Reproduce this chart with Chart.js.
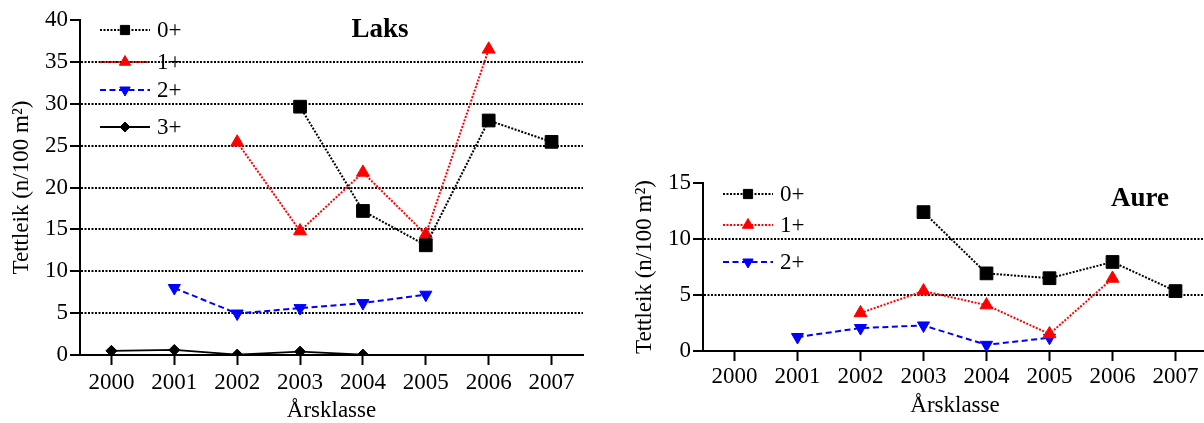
<!DOCTYPE html>
<html>
<head>
<meta charset="utf-8">
<script src="https://cdn.jsdelivr.net/npm/chart.js@4/dist/chart.umd.min.js"></script>
<style>
  html, body { margin: 0; padding: 0; overflow: hidden; background: #fff; width: 1204px; height: 423px; }
  canvas { position: absolute; top: 0; }
  #laks { left: 0; }
  #aure { left: 620px; }
</style>
</head>
<body>
<canvas id="laks" width="600" height="423"></canvas>
<canvas id="aure" width="600" height="423"></canvas>
<script>
// Year classes on the x axis
const years = ['2000', '2001', '2002', '2003', '2004', '2005', '2006', '2007'];

// Laks (salmon) density, n/100 m², per age group
const laks0 = [null, null, null, 29.65, 17.2, 13.1, 28.0, 25.45];
const laks1 = [null, null, 25.4, 14.8, 21.8, 14.4, 36.5, null];
const laks2 = [null, 8.0, 4.95, 5.6, 6.2, 7.2, null, null];
const laks3 = [0.5, 0.6, 0.05, 0.4, 0.05, null, null, null];

// Aure (trout) density, n/100 m², per age group
const aure0 = [null, null, null, 12.4, 6.93, 6.5, 7.95, 5.35];
const aure1 = [null, null, 3.4, 5.35, 4.1, 1.52, 6.48, null];
const aure2 = [null, 1.25, 2.05, 2.28, 0.55, 1.18, null, null];

// Age-group labels and y tick ranges
const ageLabels = ['0+', '1+', '2+', '3+'];
const laksTicks = { max: 40, step: 5 };
const aureTicks = { max: 15, step: 5 };

const FONT = "'Liberation Serif', 'Times New Roman', serif";
const FS = 23;
Chart.defaults.font.family = FONT;
Chart.defaults.color = '#000';

const styles = [
  { color: '#000000', dash: [2, 1.5], width: 2, pointStyle: 'rect', radius: 9, legendRadius: 6.5, rotation: 0 },
  { color: '#ff0000', dash: [2, 1.5], width: 2, pointStyle: 'triangle', radius: 7.5, legendRadius: 6.5, rotation: 0 },
  { color: '#0000ff', dash: [6, 3.5], width: 2, pointStyle: 'triangle', radius: 7, legendRadius: 6, rotation: 180 },
  { color: '#000000', dash: [], width: 1.8, pointStyle: 'rectRot', radius: 5.5, legendRadius: 5, rotation: 0 }
];

function makeDatasets(series) {
  return series.map((data, i) => {
    const s = styles[i];
    return {
      label: ageLabels[i],
      data: data,
      borderColor: s.color,
      backgroundColor: s.color,
      borderWidth: s.width,
      borderDash: s.dash,
      pointStyle: s.pointStyle,
      pointRotation: s.rotation,
      pointRadius: s.radius,
      pointHoverRadius: s.radius,
      pointBackgroundColor: s.color,
      pointBorderColor: s.color,
      pointBorderWidth: 1,
      tension: 0,
      spanGaps: false,
      legendRadius: s.legendRadius
    };
  });
}

// Legend and title drawn inside the plot area
const insideLegend = {
  id: 'insideLegend',
  afterDraw(chart, args, opts) {
    const ctx = chart.ctx;
    const left = chart.chartArea.left;
    ctx.save();
    chart.data.datasets.forEach((ds, i) => {
      const y = opts.rows[i];
      ctx.beginPath();
      ctx.setLineDash(ds.borderDash || []);
      ctx.lineWidth = ds.borderWidth;
      ctx.strokeStyle = ds.borderColor;
      ctx.moveTo(left + 20, y);
      ctx.lineTo(left + 70, y);
      ctx.stroke();
      ctx.setLineDash([]);
      ctx.fillStyle = ds.pointBackgroundColor;
      ctx.strokeStyle = ds.pointBorderColor;
      ctx.lineWidth = 1;
      Chart.helpers.drawPoint(ctx, {
        pointStyle: ds.pointStyle,
        rotation: ds.pointRotation,
        radius: ds.legendRadius,
        borderWidth: 1
      }, left + 45, y);
      ctx.fillStyle = '#000';
      ctx.font = FS + 'px ' + FONT;
      ctx.textAlign = 'left';
      ctx.textBaseline = 'middle';
      ctx.fillText(ds.label, left + 77, y + 1);
    });
    ctx.font = 'bold 27px ' + FONT;
    ctx.textAlign = 'center';
    ctx.textBaseline = 'middle';
    ctx.fillStyle = '#000';
    ctx.fillText(opts.title, opts.titleX, opts.titleY);
    ctx.restore();
  }
};

function makeChart(id, series, ticks, geom) {
  return new Chart(document.getElementById(id), {
    type: 'line',
    data: { labels: years, datasets: makeDatasets(series) },
    plugins: [insideLegend],
    options: {
      responsive: false,
      animation: false,
      events: [],
      layout: { padding: { left: 0, right: geom.padRight, top: geom.padTop, bottom: 0 } },
      plugins: {
        legend: { display: false },
        tooltip: { enabled: false },
        insideLegend: { rows: geom.rows, title: geom.title, titleX: geom.titleX, titleY: geom.titleY }
      },
      scales: {
        x: {
          offset: true,
          afterFit: s => { s.height = geom.xHeight; },
          grid: { display: true, drawOnChartArea: false, drawTicks: true, tickLength: 10, tickWidth: 2, tickColor: '#000', offset: false },
          border: { display: true, color: '#000', width: 2 },
          ticks: { font: { size: FS, lineHeight: 1.2 }, padding: geom.xTickPad, color: '#000', maxRotation: 0, autoSkip: false },
          title: { display: true, text: 'Årsklasse', font: { size: FS, lineHeight: 1 }, padding: { top: 0, bottom: geom.xTitlePad }, color: '#000' }
        },
        y: {
          min: 0,
          max: ticks.max,
          afterFit: s => { s.width = geom.yWidth; },
          grid: {
            color: c => (c.tick && (c.tick.value === 0 || c.tick.value === ticks.max)) ? 'rgba(0,0,0,0)' : '#000',
            lineWidth: 2,
            drawTicks: true,
            tickLength: 10,
            tickWidth: 2,
            tickColor: '#000',
            tickBorderDash: []
          },
          border: { display: true, color: '#000', width: 2, dash: [2, 1.5] },
          ticks: { stepSize: ticks.step, font: { size: FS }, padding: 2, color: '#000' },
          title: { display: true, text: 'Tettleik (n/100 m²)', font: { size: FS, lineHeight: 1 }, padding: { top: geom.yTitlePad, bottom: 0 }, color: '#000' }
        }
      }
    }
  });
}

makeChart('laks', [laks0, laks1, laks2, laks3], laksTicks, {
  padRight: 17, padTop: 20, xHeight: 68, yWidth: 80,
  xTickPad: 4, xTitlePad: 1, yTitlePad: 10,
  rows: [30, 62, 90, 127], title: 'Laks', titleX: 380, titleY: 30
});

makeChart('aure', [aure0, aure1, aure2], aureTicks, {
  padRight: 13, padTop: 183, xHeight: 72, yWidth: 83,
  xTickPad: 2.5, xTitlePad: 6, yTitlePad: 13,
  rows: [194, 225, 262], title: 'Aure', titleX: 520, titleY: 199
});
</script>
</body>
</html>
